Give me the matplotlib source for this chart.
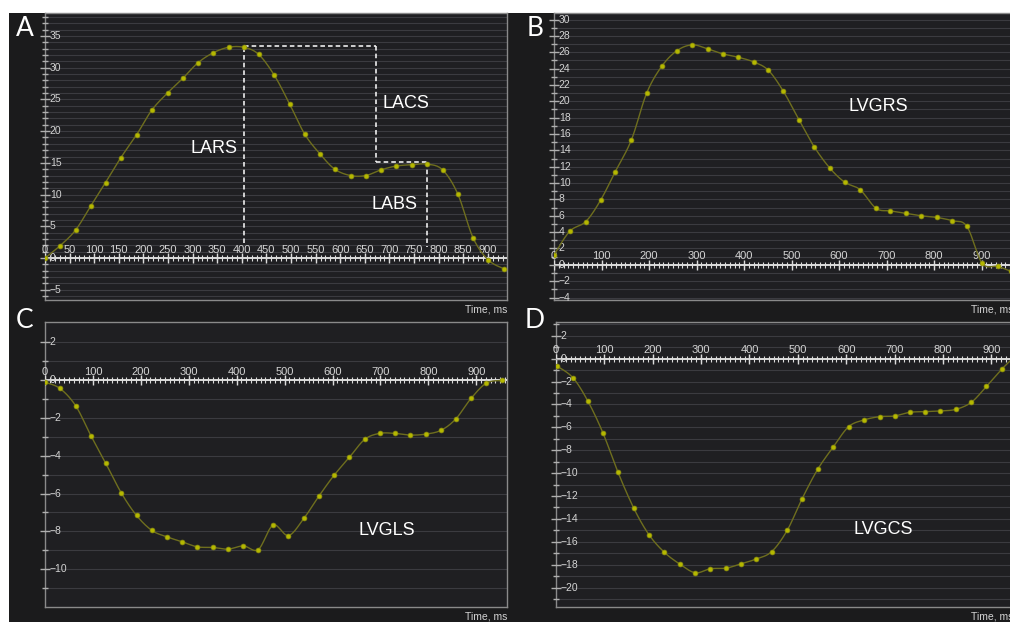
import numpy as np
import matplotlib
matplotlib.use("Agg")
import matplotlib.pyplot as plt
from matplotlib.patches import Rectangle

# ---------------- data ----------------
a_time = [0, 30, 62, 93, 123, 154, 186, 217, 249, 280, 310, 341, 373, 404, 434, 466,
          497, 528, 559, 589, 621, 652, 683, 714, 746, 777, 808, 839, 870, 901, 933]
a_vals = [0, 1.9, 4.4, 8.2, 11.9, 15.8, 19.4, 23.3, 26.0, 28.3, 30.7, 32.3, 33.2, 33.2,
          32.1, 28.8, 24.3, 19.5, 16.4, 14.0, 13.0, 13.0, 13.9, 14.5, 14.7, 14.8, 13.9,
          10.1, 3.2, -0.3, -1.7]

b_time = [0, 33, 67, 98, 129, 163, 195, 227, 259, 291, 324, 355, 387, 421, 451, 482,
          516, 548, 581, 612, 644, 678, 708, 740, 773, 805, 838, 869, 901, 934, 962]
b_vals = [1.2, 4.1, 5.3, 7.9, 11.4, 15.3, 21.0, 24.3, 26.2, 26.9, 26.4, 25.8, 25.4, 24.8,
          23.8, 21.3, 17.7, 14.4, 11.8, 10.1, 9.2, 6.9, 6.6, 6.3, 6.0, 5.8, 5.4, 4.7,
          0.2, -0.2, -0.8]

c_time = [0, 31, 64, 96, 127, 159, 191, 223, 254, 286, 318, 350, 382, 414, 445, 476,
          508, 540, 572, 603, 635, 667, 698, 730, 762, 794, 826, 857, 889, 921, 953]
c_vals = [-0.12, -0.44, -1.36, -2.95, -4.41, -5.96, -7.16, -7.95, -8.29, -8.55, -8.82,
          -8.85, -8.94, -8.77, -8.96, -7.67, -8.22, -7.32, -6.12, -5.04, -4.09, -3.14,
          -2.82, -2.82, -2.91, -2.86, -2.66, -2.06, -0.97, -0.16, -0.02]

d_time = [2, 35, 66, 97, 128, 161, 192, 224, 256, 288, 319, 352, 383, 414, 446, 478,
          509, 541, 573, 605, 636, 669, 700, 732, 764, 795, 827, 859, 890, 922, 954]
d_vals = [-0.65, -1.67, -3.72, -6.48, -9.91, -13.08, -15.37, -16.92, -17.95, -18.71,
          -18.36, -18.30, -17.92, -17.51, -16.86, -15.01, -12.23, -9.68, -7.74, -5.95,
          -5.37, -5.07, -5.01, -4.69, -4.63, -4.57, -4.43, -3.81, -2.43, -0.91, 0.4]

panel_letters = ["A", "B", "C", "D"]
panel_names = ["", "LVGRS", "LVGLS", "LVGCS"]
a_labels = ["LARS", "LACS", "LABS"]
x_label = "Time, ms"

# dashed bracket segments for panel A (time, strain)
a_dash_x = [404, 404, 672, 672, 777, 777]
a_dash_y = [2.4, 33.4, 33.4, 15.2, 15.2, 1.8]

# ---------------- style ----------------
W, H = 1010, 622
fig = plt.figure(figsize=(W / 100, H / 100), dpi=100)
fig.patch.set_facecolor("white")
fig.patches.append(Rectangle((9 / W, 0), 1 - 9 / W, 1 - 13 / H, transform=fig.transFigure,
                             facecolor="#1b1b1c", edgecolor="none", zorder=-10))

FONT = "Liberation Sans"
BG = "#1f1f22"
GRID = "#3b3b40"
LINE = "#6e6e1e"
MARK = "#b5b800"
TXT = "#d4d4d4"


def px_axes(left, right, top, bottom):
    return fig.add_axes([left / W, 1 - bottom / H, (right - left) / W, (bottom - top) / H])


def smooth(x, y, n=14):
    P = np.column_stack([np.asarray(x, float), np.asarray(y, float)])
    P = np.vstack([P[0], P, P[-1]])
    out = []
    t = np.linspace(0, 1, n, endpoint=False)[:, None]
    for i in range(1, len(P) - 2):
        p0, p1, p2, p3 = P[i - 1], P[i], P[i + 1], P[i + 2]
        seg = 0.5 * ((2 * p1) + (-p0 + p2) * t + (2 * p0 - 5 * p1 + 4 * p2 - p3) * t ** 2
                     + (-p0 + 3 * p1 - 3 * p2 + p3) * t ** 3)
        out.append(seg)
    out.append(P[-2][None, :])
    return np.vstack(out)


def fmt(v):
    s = f"{v:g}"
    return s.replace("-", "\u2212")


def setup(ax, xmax, ylo, yhi, ymaj, xmaj, t, v):
    ax.set_facecolor(BG)
    ax.set_xlim(0, xmax)
    ax.set_ylim(ylo, yhi)
    for s in ax.spines.values():
        s.set_color("#8a8a8a")
        s.set_linewidth(1.0)
    ax.set_xticks([])
    ax.set_yticks([])
    levels = [g for g in range(int(np.ceil(ylo)), int(np.floor(yhi)) + 1)
              if ylo + 0.15 < g < yhi - 0.15]
    # horizontal grid every unit
    for g in levels:
        ax.axhline(g, color=GRID, lw=0.8, zorder=0)
    # y ticks on spine + labels inside
    ytr = ax.get_yaxis_transform()
    for g in levels:
        major = (g % ymaj == 0)
        ax.plot([0], [g], marker="_", transform=ytr, color="#b0b0b0",
                ms=(7 if major else 4), mew=1, clip_on=False, zorder=4)
        if major:
            ax.annotate(fmt(g), xy=(0, g), xycoords=ytr, xytext=(3.5, 0),
                        textcoords="offset points", ha="left", va="center",
                        fontsize=7.5, color=TXT, family=FONT, zorder=5)
    # zero axis with ticks
    ax.axhline(0, color="#dcdcdc", lw=1.4, zorder=3)
    minors = np.arange(0, xmax, 10)
    ax.plot(minors, np.zeros_like(minors), ls="none", marker="|", ms=4, mew=0.8,
            color="#dcdcdc", zorder=3)
    majors = np.arange(0, xmax, xmaj)
    ax.plot(majors, np.zeros_like(majors), ls="none", marker="|", ms=7, mew=1,
            color="#dcdcdc", zorder=3)
    for m in majors:
        ax.annotate(f"{m:g}", xy=(m, 0), xytext=(0, 2.5), textcoords="offset points",
                    ha="center", va="bottom", fontsize=8, color=TXT, family=FONT, zorder=5)
    # curve
    S = smooth(t, v)
    ax.plot(S[:, 0], S[:, 1], color=LINE, lw=1.0, zorder=6)
    ax.plot(t, v, ls="none", marker="o", ms=3.5, mfc=MARK, mec="#8a8c10", mew=0.5, zorder=7)
    ax.annotate(x_label, xy=(1, 0), xycoords="axes fraction", xytext=(0, -3),
                textcoords="offset points", ha="right", va="top", fontsize=7.5,
                color=TXT, family=FONT, annotation_clip=False)


axA = px_axes(45, 507, 13, 300)
setup(axA, 939, -6.6, 38.6, 5, 50, a_time, a_vals)
axB = px_axes(554, 1013, 13, 300)
setup(axB, 966, -4.3, 30.8, 2, 100, b_time, b_vals)
axC = px_axes(45, 507, 322, 607)
setup(axC, 964, -12.0, 3.07, 2, 100, c_time, c_vals)
axD = px_axes(556, 1013, 322, 607)
setup(axD, 945, -21.7, 3.2, 2, 100, d_time, d_vals)

# dashed bracket in A
for i in range(len(a_dash_x) - 1):
    axA.plot(a_dash_x[i:i + 2], a_dash_y[i:i + 2], color="white", lw=1.1,
             ls=(0, (3, 2)), zorder=5)

txt_kw = dict(fontsize=13, color="white", family=FONT, ha="center", va="center", zorder=8)
axA.text(343, 17.3, a_labels[0], **txt_kw)
axA.text(733, 24.4, a_labels[1], **txt_kw)
axA.text(711, 8.4, a_labels[2], **txt_kw)
axB.text(682, 19.4, panel_names[1], **txt_kw)
axC.text(714, -7.94, panel_names[2], **txt_kw)
axD.text(676, -14.95, panel_names[3], **txt_kw)

let_kw = dict(fontsize=19, color="white", family="Lato", ha="center", va="center")
fig.text(25 / W, 1 - 29 / H, panel_letters[0], **let_kw)
fig.text(535 / W, 1 - 29 / H, panel_letters[1], **let_kw)
fig.text(25 / W, 1 - 320 / H, panel_letters[2], **let_kw)
fig.text(535 / W, 1 - 321 / H, panel_letters[3], **let_kw)

fig.savefig("out.png", dpi=100, facecolor=fig.get_facecolor())
